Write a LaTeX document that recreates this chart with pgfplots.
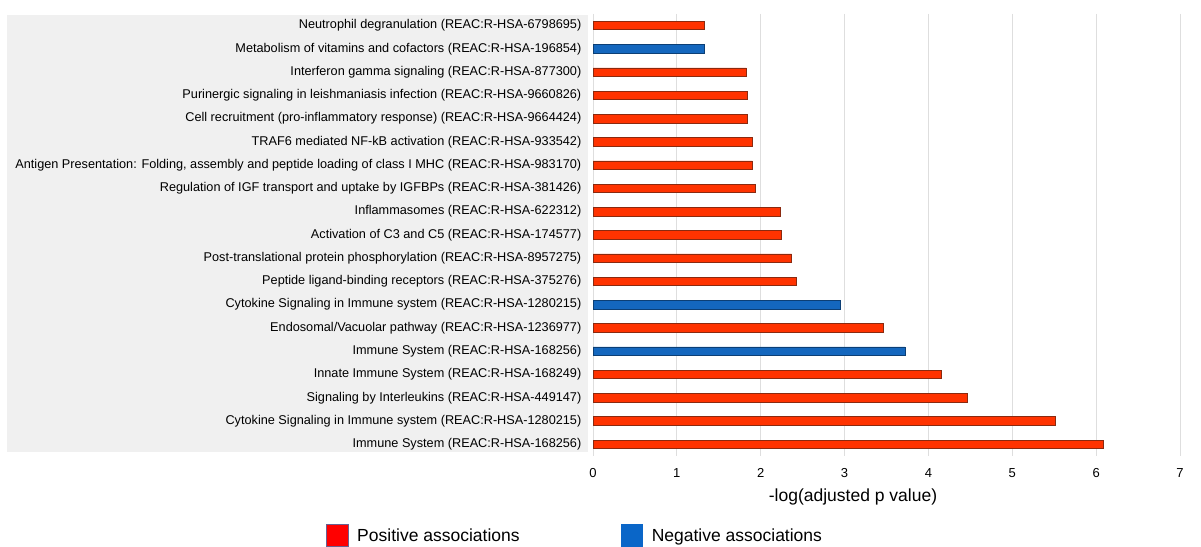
\documentclass[border=0pt]{standalone}
\usepackage{pgfplots}
\pgfplotsset{compat=1.18}
\usepackage{fontspec}
\setmainfont{Liberation Sans}

\definecolor{posfill}{HTML}{FF3300}
\definecolor{posedge}{HTML}{8A2A10}
\definecolor{negfill}{HTML}{1467BE}
\definecolor{negedge}{HTML}{0C3F75}
\definecolor{legred}{HTML}{FF0000}
\definecolor{legblue}{HTML}{0A66C8}
\definecolor{legedge}{HTML}{6A6090}
\definecolor{labelbg}{HTML}{F0F0F0}
\definecolor{gridgray}{HTML}{DEDEDE}

\begin{document}
\begin{tikzpicture}
\path[use as bounding box] (0pt,0pt) rectangle (1201pt,546pt);
% shaded panel behind the pathway names
\fill[labelbg] (7pt,94pt) rectangle (588pt,531pt);
\begin{axis}[
  at={(593pt,90.1pt)}, anchor=south west,
  scale only axis,
  width=587pt, height=442pt,
  xbar, bar width=8.5pt, bar shift=0pt,
  xmin=0, xmax=7,
  ymin=-0.5, ymax=18.5,
  y dir=reverse,
  xtick={0,1,...,7},
  ytick={0,1,...,18},
  yticklabels={
    Neutrophil degranulation (REAC:R-HSA-6798695),
    Metabolism of vitamins and cofactors (REAC:R-HSA-196854),
    Interferon gamma signaling (REAC:R-HSA-877300),
    Purinergic signaling in leishmaniasis infection (REAC:R-HSA-9660826),
    Cell recruitment (pro-inflammatory response) (REAC:R-HSA-9664424),
    TRAF6 mediated NF-kB activation (REAC:R-HSA-933542),
    {Antigen Presentation: Folding, assembly and peptide loading of class I MHC (REAC:R-HSA-983170)},
    Regulation of IGF transport and uptake by IGFBPs (REAC:R-HSA-381426),
    Inflammasomes (REAC:R-HSA-622312),
    Activation of C3 and C5 (REAC:R-HSA-174577),
    Post-translational protein phosphorylation (REAC:R-HSA-8957275),
    Peptide ligand-binding receptors (REAC:R-HSA-375276),
    Cytokine Signaling in Immune system (REAC:R-HSA-1280215),
    Endosomal/Vacuolar pathway (REAC:R-HSA-1236977),
    Immune System (REAC:R-HSA-168256),
    Innate Immune System (REAC:R-HSA-168249),
    Signaling by Interleukins (REAC:R-HSA-449147),
    Cytokine Signaling in Immune system (REAC:R-HSA-1280215),
    Immune System (REAC:R-HSA-168256)},
  axis line style={draw=none},
  major tick length=0pt,
  xmajorgrids, grid style={gridgray, line width=1pt},
  /pgf/number format/assume math mode=true,
  xticklabel style={font=\fontsize{13}{15}\selectfont, yshift=-9pt},
  yticklabel style={font=\fontsize{12.7}{15}\selectfont, inner sep=0pt, xshift=-11.5pt},
  xlabel={-log(adjusted p value)},
  xlabel style={font=\fontsize{17.5}{21}\selectfont, at={(axis description cs:0.443,0)}, anchor=center, yshift=-41pt},
  clip=false,
  legend columns=2,
  legend cell align=left,
  legend image code/.code={\draw[#1] (0pt,-10.8pt) rectangle (21.5pt,10.8pt);},
  legend style={draw=none, fill=none, inner sep=0pt,
    font=\fontsize{17.5}{21}\selectfont,
    at={(axis description cs:-0.455,-0.18)}, anchor=west,
    /tikz/every even column/.append style={column sep=99pt}},
]
% positive associations
\addplot[fill=posfill, draw=posedge, line width=0.6pt, forget plot] coordinates {
  (1.33,0) (1.83,2) (1.84,3) (1.84,4) (1.90,5) (1.90,6) (1.94,7)
  (2.23,8) (2.25,9) (2.37,10) (2.43,11) (3.46,13) (4.15,15)
  (4.46,16) (5.51,17) (6.08,18)};
% negative associations
\addplot[fill=negfill, draw=negedge, line width=0.6pt, forget plot] coordinates {
  (1.33,1) (2.95,12) (3.72,14)};

\addlegendimage{fill=legred, draw=legedge, line width=0.6pt}
\addlegendentry{\hspace{7pt}Positive associations}
\addlegendimage{fill=legblue, draw=legblue, line width=0.6pt}
\addlegendentry{\hspace{7pt}Negative associations}
\end{axis}
\end{tikzpicture}
\end{document}
